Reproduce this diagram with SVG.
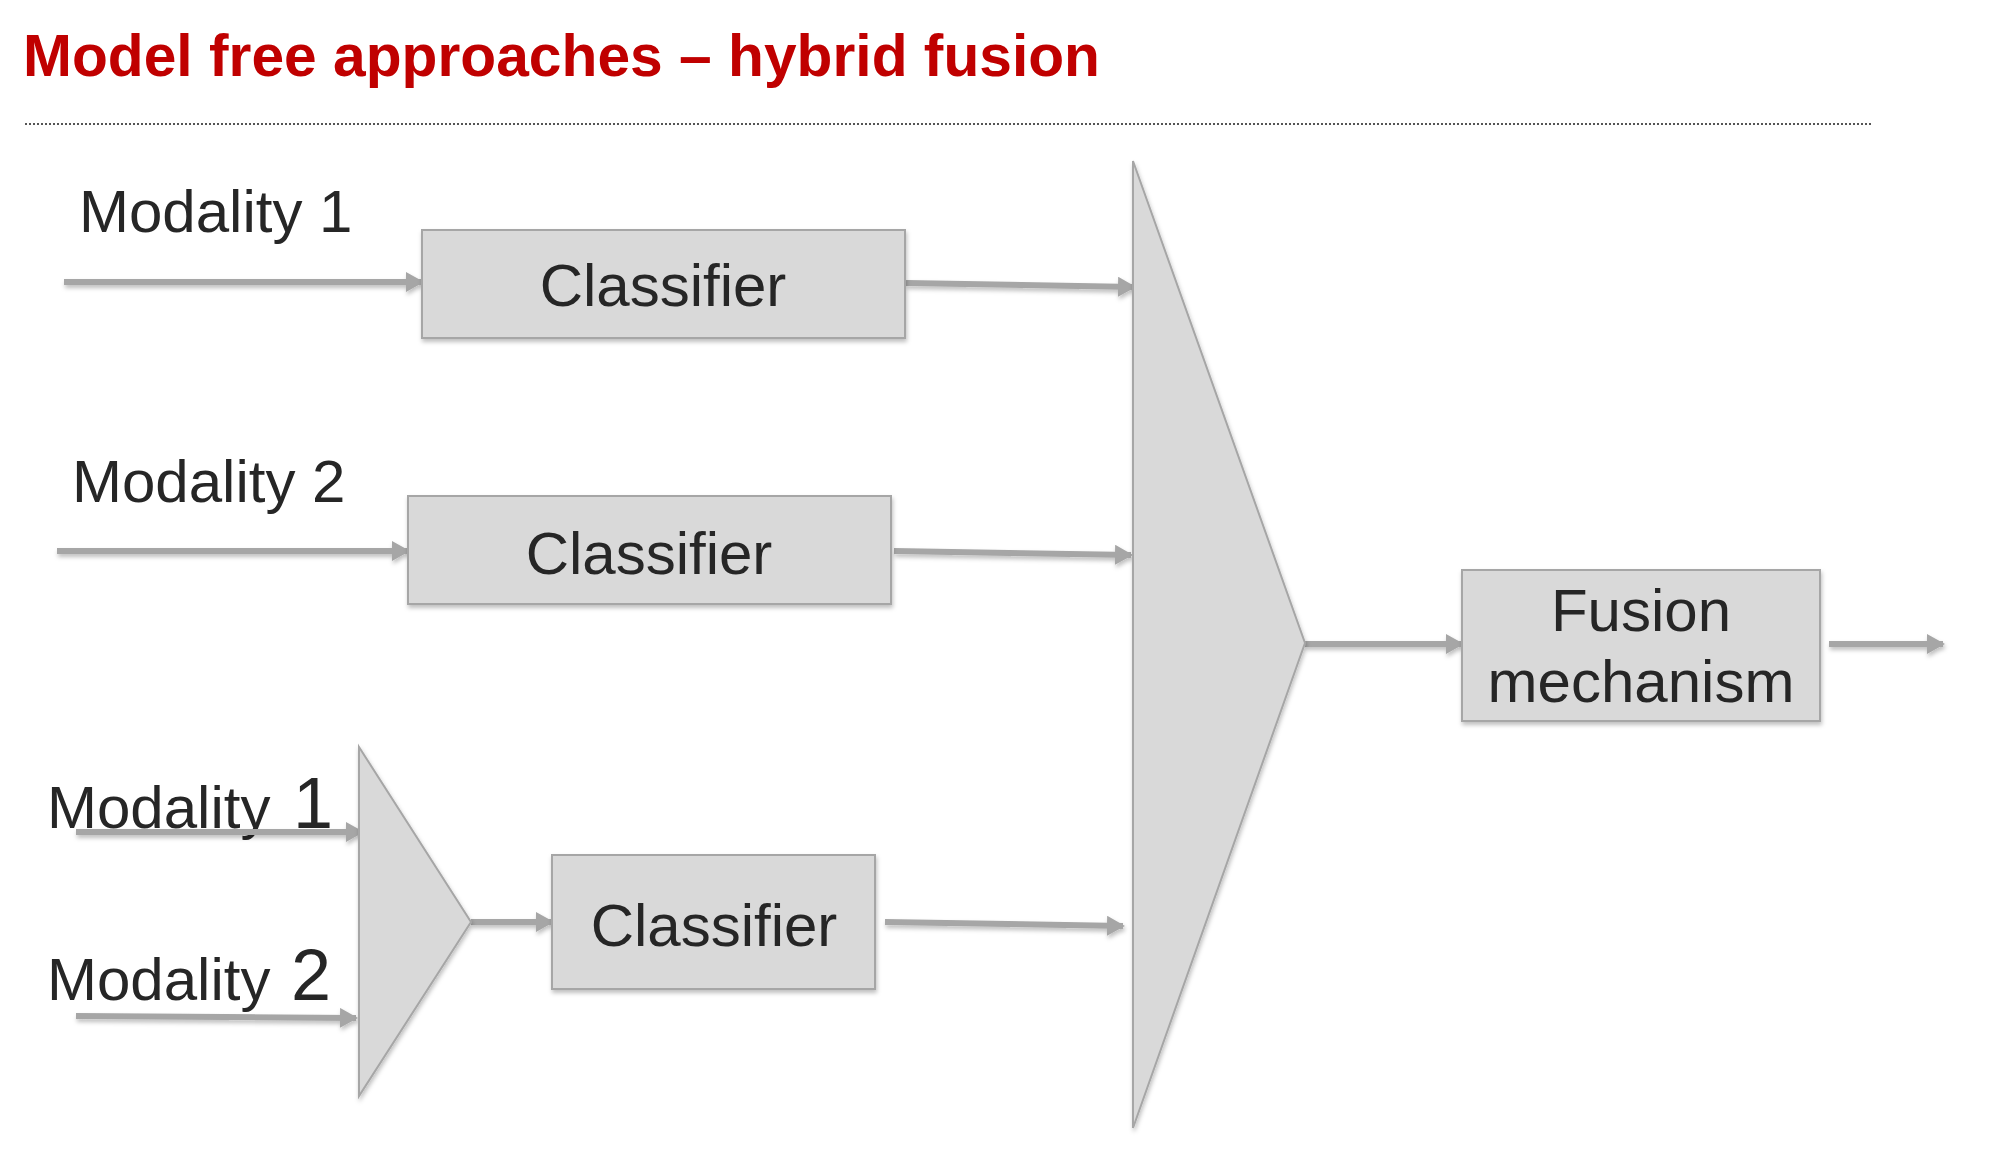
<svg xmlns="http://www.w3.org/2000/svg" width="1991" height="1156" viewBox="0 0 1991 1156">
<style>
text{font-family:"Liberation Sans",Arial,sans-serif;fill:#262626}
.title{font-weight:bold;fill:#C00000;font-size:60px}
.lbl{font-size:60px}
.box{fill:#d9d9d9;stroke:#a6a6a6;stroke-width:2}
.tri{fill:#d9d9d9;stroke:#a6a6a6;stroke-width:2;stroke-linejoin:miter}
.conn{stroke:#a6a6a6;stroke-width:6;fill:none;marker-end:url(#ah)}
</style>
<defs>
<marker id="ah" markerUnits="userSpaceOnUse" markerWidth="18" markerHeight="20" refX="16" refY="10" orient="auto">
<path d="M0,0 L18,10 L0,20 Z" fill="#a6a6a6"/>
</marker>
<filter id="sh" x="-10%" y="-10%" width="120%" height="130%">
<feDropShadow dx="1" dy="3" stdDeviation="2" flood-color="#000" flood-opacity="0.25"/>
</filter>
</defs>
<rect width="1991" height="1156" fill="#ffffff"/>
<g id="title">
<text class="title" x="23" y="76" textLength="1077" lengthAdjust="spacingAndGlyphs">Model free approaches – hybrid fusion</text>
<line x1="25" y1="124" x2="1873" y2="124" stroke="#555" stroke-width="2" stroke-dasharray="2,2"/>
</g>
<g id="labels">
<text class="lbl" x="79" y="232">Modality 1</text>
<text class="lbl" x="72" y="502">Modality 2</text>
<text class="lbl" x="47" y="828">Modality <tspan dx="6" font-size="72">1</tspan></text>
<text class="lbl" x="47" y="1000">Modality <tspan dx="4" font-size="72">2</tspan></text>
</g>
<g id="connectors" filter="url(#sh)">
<line class="conn" x1="64" y1="282" x2="422" y2="282"/>
<line class="conn" x1="906" y1="283" x2="1134" y2="287"/>
<line class="conn" x1="57" y1="551" x2="408" y2="551"/>
<line class="conn" x1="894" y1="551" x2="1131" y2="555"/>
<line class="conn" x1="76" y1="832" x2="362" y2="832"/>
<line class="conn" x1="76" y1="1016" x2="356" y2="1018"/>
<line class="conn" x1="471" y1="922" x2="552" y2="922"/>
<line class="conn" x1="885" y1="922" x2="1123" y2="926"/>
<line class="conn" x1="1305" y1="644" x2="1462" y2="644"/>
<line class="conn" x1="1829" y1="644" x2="1943" y2="644"/>
</g>
<g id="classifier1">
<rect class="box" x="422" y="230" width="483" height="108" filter="url(#sh)"/>
<text class="lbl" x="663" y="306" text-anchor="middle">Classifier</text>
</g>
<g id="classifier2">
<rect class="box" x="408" y="496" width="483" height="108" filter="url(#sh)"/>
<text class="lbl" x="649" y="574" text-anchor="middle">Classifier</text>
</g>
<g id="early-fusion">
<polygon class="tri" points="359,747 471,922 359,1096" filter="url(#sh)"/>
</g>
<g id="classifier3">
<rect class="box" x="552" y="855" width="323" height="134" filter="url(#sh)"/>
<text class="lbl" x="714" y="946" text-anchor="middle">Classifier</text>
</g>
<g id="late-fusion">
<polygon class="tri" points="1133,161 1305,643 1133,1128" filter="url(#sh)"/>
</g>
<g id="fusion-mechanism">
<rect class="box" x="1462" y="570" width="358" height="151" filter="url(#sh)"/>
<text class="lbl" x="1641" y="631" text-anchor="middle">Fusion</text>
<text class="lbl" x="1641" y="702" text-anchor="middle">mechanism</text>
</g>
</svg>
